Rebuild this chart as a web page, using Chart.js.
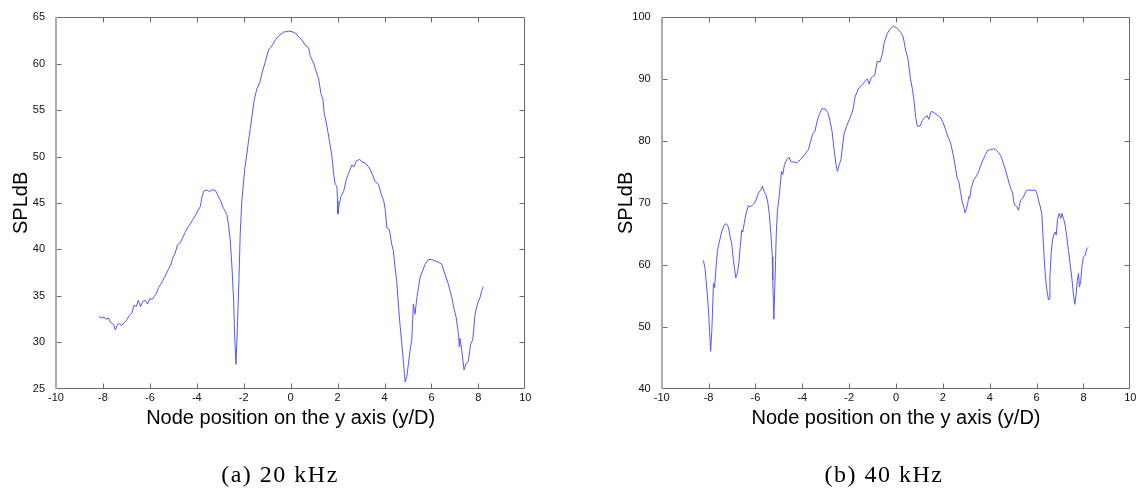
<!DOCTYPE html>
<html>
<head>
<meta charset="utf-8">
<script src="https://cdn.jsdelivr.net/npm/chart.js@4/dist/chart.umd.min.js"></script>
<style>
  html, body { margin: 0; padding: 0; background: #fff; }
  #page { position: relative; width: 1147px; height: 493px; overflow: hidden; }
  .panel { position: absolute; top: 0; height: 493px; }
  .caption {
    position: absolute; top: 462px; width: 300px; text-align: center;
    font-family: "Liberation Serif", serif; font-size: 24px; line-height: 24px;
    letter-spacing: 1.5px; color: #000; white-space: nowrap;
  }
</style>
</head>
<body>
<div id="page">
  <div class="panel" style="left:0;width:573px"><canvas id="c20"></canvas></div>
  <div class="panel" style="left:573px;width:574px"><canvas id="c40"></canvas></div>
  <div class="caption" style="left:130px">(a) 20 kHz</div>
  <div class="caption" style="left:734px">(b) 40 kHz</div>
</div>
<script>
// Node positions (y/D) and sound pressure level (dB) at 20 kHz
const pos20 = [
  -8.17,-8.05,-7.95,-7.87,-7.77,-7.67,-7.55,-7.47,-7.38,-7.30,-7.20,-7.10,-6.98,-6.87,-6.77,-6.67,-6.59,-6.49,-6.40,-6.30,
  -6.20,-6.10,-6.00,-5.90,-5.82,-5.73,-5.63,-5.53,-5.42,-5.35,-5.20,-5.10,-5.02,-4.92,-4.82,-4.71,-4.60,-4.50,-4.40,-4.28,
  -4.17,-4.07,-3.97,-3.85,-3.78,-3.71,-3.57,-3.46,-3.36,-3.21,-3.12,-3.00,-2.86,-2.79,-2.72,-2.65,-2.57,-2.50,-2.43,-2.39,
  -2.33,-2.30,-2.26,-2.20,-2.15,-2.08,-2.04,-1.96,-1.86,-1.79,-1.72,-1.65,-1.55,-1.44,-1.32,-1.22,-1.08,-0.94,-0.80,-0.65,
  -0.51,-0.30,-0.09,0.06,0.20,0.34,0.48,0.62,0.77,0.84,0.98,1.09,1.19,1.29,1.38,1.43,1.52,1.62,1.69,1.76,
  1.83,1.90,1.97,2.00,2.01,2.07,2.14,2.26,2.37,2.47,2.61,2.71,2.79,2.94,3.04,3.18,3.32,3.46,3.60,3.74,
  3.89,3.96,4.03,4.10,4.21,4.31,4.38,4.45,4.52,4.60,4.67,4.74,4.81,4.88,4.95,5.02,5.09,5.16,5.23,5.30,
  5.38,5.45,5.52,5.63,5.73,5.87,6.01,6.16,6.30,6.44,6.58,6.72,6.87,6.96,7.05,7.15,7.19,7.22,7.29,7.39,
  7.48,7.57,7.67,7.76,7.86,7.96,8.07,8.14,8.21
];
const spl20 = [
  32.75,32.6,32.7,32.45,32.6,32.1,31.9,31.3,31.9,32.0,31.8,32.1,32.4,32.9,33.1,34.0,33.8,34.5,33.8,34.4,
  34.5,34.1,34.7,34.6,34.9,35.2,35.9,36.25,36.8,37.1,37.9,38.4,39.1,39.6,40.5,40.7,41.25,41.8,42.3,42.7,
  43.2,43.6,44.1,44.6,45.6,46.25,46.4,46.2,46.4,46.35,45.9,45.3,44.4,44.1,43.75,42.7,40.9,38.0,34.5,30.9,
  27.6,29.5,32.3,37.0,41.6,45.2,46.3,48.6,50.4,51.8,53.0,54.3,56.1,57.3,57.9,59.0,60.2,61.5,61.9,62.6,
  63.0,63.4,63.5,63.45,63.3,62.9,62.55,62.0,61.7,60.8,60.05,59.15,58.4,56.8,56.1,54.7,53.6,52.2,51.1,50.0,
  48.2,47.0,46.8,45.2,43.8,44.8,45.7,46.25,47.5,48.2,49.1,48.9,49.5,49.7,49.4,49.3,48.9,48.2,47.3,47.0,
  45.7,45.3,44.3,42.3,42.1,40.5,39.8,38.0,36.6,33.75,31.6,29.8,27.7,25.7,26.25,27.7,29.1,30.2,34.1,33.0,
  34.8,35.9,37.0,37.7,38.4,38.9,38.9,38.75,38.6,38.4,37.3,36.25,34.8,33.6,32.7,30.9,29.5,30.4,29.1,27.0,
  27.7,27.9,29.8,30.2,33.0,34.1,34.8,35.5,36.0
];

// Node positions (y/D) and sound pressure level (dB) at 40 kHz
const pos40 = [
  -8.22,-8.15,-8.08,-8.00,-7.96,-7.91,-7.86,-7.82,-7.79,-7.74,-7.68,-7.62,-7.54,-7.44,-7.34,-7.25,-7.15,-7.08,-7.01,-6.94,
  -6.84,-6.77,-6.71,-6.65,-6.58,-6.54,-6.48,-6.40,-6.30,-6.23,-6.13,-6.05,-5.97,-5.87,-5.77,-5.70,-5.63,-5.55,-5.48,-5.41,
  -5.34,-5.28,-5.26,-5.21,-5.19,-5.14,-5.11,-5.06,-5.00,-4.94,-4.89,-4.83,-4.76,-4.66,-4.57,-4.49,-4.38,-4.24,-4.17,-4.07,
  -3.95,-3.84,-3.74,-3.64,-3.56,-3.46,-3.36,-3.27,-3.17,-3.03,-2.91,-2.82,-2.73,-2.65,-2.56,-2.50,-2.42,-2.35,-2.29,-2.22,
  -2.11,-1.99,-1.92,-1.82,-1.75,-1.61,-1.47,-1.36,-1.22,-1.15,-1.05,-0.91,-0.80,-0.68,-0.58,-0.51,-0.37,-0.23,-0.09,0.06,
  0.20,0.31,0.41,0.51,0.62,0.70,0.77,0.84,0.91,1.02,1.12,1.22,1.33,1.40,1.50,1.62,1.76,1.90,2.01,2.11,
  2.21,2.33,2.44,2.54,2.61,2.68,2.75,2.82,2.89,2.95,3.01,3.06,3.11,3.15,3.21,3.32,3.43,3.53,3.63,3.72,
  3.82,3.91,4.03,4.17,4.28,4.38,4.48,4.60,4.69,4.77,4.85,4.92,4.98,5.02,5.09,5.16,5.23,5.28,5.33,5.42,
  5.48,5.56,5.66,5.80,5.94,6.01,6.09,6.16,6.23,6.27,6.33,6.38,6.44,6.51,6.55,6.57,6.62,6.68,6.75,6.79,
  6.84,6.89,6.96,7.04,7.08,7.15,7.22,7.29,7.36,7.43,7.50,7.57,7.63,7.69,7.74,7.79,7.83,7.89,7.93,8.00,
  8.07,8.14,8.21
];
const spl40 = [
  60.7,59.4,56.4,52.6,49.4,46.0,49.4,53.7,57.0,56.3,59.6,62.3,63.7,65.3,66.4,66.65,66.1,64.5,63.4,60.7,
  57.9,58.6,60.2,62.9,65.6,65.3,66.65,68.3,69.6,69.35,69.6,69.9,70.5,71.6,72.1,72.7,71.85,71.3,70.3,68.3,
  65.0,61.3,57.5,51.2,54.3,60.7,65.0,68.8,70.6,72.9,75.1,74.6,76.2,77.0,77.4,76.7,76.6,76.5,76.7,77.0,
  77.55,78.1,78.6,80.0,81.1,81.6,83.3,84.3,85.2,85.2,84.6,83.3,81.6,78.9,76.2,75.1,76.2,77.0,78.9,81.1,
  82.4,83.5,84.1,85.4,87.1,88.4,89.0,89.5,90.05,89.2,90.3,90.6,92.9,92.8,94.1,95.8,97.4,98.2,98.6,98.2,
  97.55,96.8,94.7,93.3,90.05,88.4,86.5,83.8,82.4,82.4,83.3,83.8,84.1,83.5,84.8,84.6,84.2,83.8,83.0,81.9,
  80.8,79.7,77.8,75.65,74.0,73.5,71.85,70.3,69.35,68.4,69.1,69.9,71.0,70.8,72.4,73.75,74.3,75.1,76.2,77.0,
  77.8,78.5,78.6,78.75,78.5,78.1,77.55,76.2,75.1,74.0,72.9,72.1,71.6,70.2,69.6,69.35,68.8,69.9,70.5,70.8,
  71.3,72.0,72.1,72.0,72.1,71.6,70.3,69.35,68.0,65.0,60.7,58.0,55.9,54.3,54.5,58.0,61.8,64.0,65.0,65.3,
  64.8,67.2,68.3,67.5,68.3,67.5,66.4,64.5,62.3,60.2,58.0,55.3,53.6,55.3,57.5,58.6,56.4,57.5,59.6,61.3,
  61.5,62.6,62.8
];

// Axis limits and tick spacing
const xRange = [-10, 10], xStep = 2;
const yRange20 = [25, 65], yStep20 = 5;
const yRange40 = [40, 100], yStep40 = 10;

const xTitle = 'Node position on the y axis (y/D)';
const yTitle = 'SPLdB';

const AXIS = '#6a6a6a';
const LEFT_SPINE = '#ababab';
const LINE = '#5555ff';
const SANS = '"Liberation Sans", Arial, sans-serif';

// Closed box around the plot area with short inward tick marks on all four sides
const boxTicks = {
  id: 'boxTicks',
  afterDatasetsDraw(chart) {
    const { ctx, chartArea: a, scales: { x, y } } = chart;
    const L = Math.round(a.left) + 0.5, R = Math.round(a.right) - 0.5;
    const T = Math.round(a.top) + 0.5, B = Math.round(a.bottom) - 0.5;
    const len = 5;
    ctx.save();
    ctx.strokeStyle = AXIS;
    ctx.lineWidth = 1;
    ctx.beginPath();
    x.ticks.forEach(t => {
      const px = Math.round(x.getPixelForValue(t.value)) + 0.5;
      if (px <= L + 1 || px >= R - 1) return;
      ctx.moveTo(px, B); ctx.lineTo(px, B - len);
      ctx.moveTo(px, T); ctx.lineTo(px, T + len);
    });
    y.ticks.forEach(t => {
      const py = Math.round(y.getPixelForValue(t.value)) + 0.5;
      if (py <= T + 1 || py >= B - 1) return;
      ctx.moveTo(L, py); ctx.lineTo(L + len, py);
      ctx.moveTo(R, py); ctx.lineTo(R - len, py);
    });
    // top, right and bottom sides of the box
    ctx.moveTo(L, T); ctx.lineTo(R, T); ctx.lineTo(R, B); ctx.lineTo(L, B);
    ctx.stroke();
    // left spine is a wider, lighter rule
    ctx.beginPath();
    ctx.strokeStyle = LEFT_SPINE;
    ctx.lineWidth = 2;
    ctx.moveTo(Math.round(a.left) - 0.0, T - 0.5);
    ctx.lineTo(Math.round(a.left) - 0.0, B + 0.5);
    ctx.stroke();
    ctx.restore();
  }
};

function makeChart(id, pos, spl, yRange, yStep, pad) {
  const points = pos.map((p, i) => ({ x: p, y: spl[i] }));
  return new Chart(document.getElementById(id), {
    type: 'line',
    data: {
      datasets: [{
        data: points,
        borderColor: LINE,
        borderWidth: 1,
        pointRadius: 0,
        tension: 0,
        fill: false
      }]
    },
    options: {
      responsive: true,
      maintainAspectRatio: false,
      animation: false,
      events: [],
      layout: { padding: pad },
      plugins: { legend: { display: false }, tooltip: { enabled: false } },
      scales: {
        x: {
          type: 'linear',
          min: xRange[0], max: xRange[1],
          grid: { display: false },
          border: { display: false },
          ticks: { stepSize: xStep, color: '#111', font: { family: SANS, size: 11 }, padding: -5, maxRotation: 0 },
          title: { display: true, text: xTitle, color: '#000', font: { family: SANS, size: 20 }, padding: { top: 0, bottom: 0 } },
          afterFit(s) { s.height = 42; }
        },
        y: {
          type: 'linear',
          min: yRange[0], max: yRange[1],
          grid: { display: false },
          border: { display: false },
          ticks: { stepSize: yStep, color: '#111', font: { family: SANS, size: 11 }, padding: 3 },
          title: { display: true, text: yTitle, color: '#000', font: { family: SANS, size: 20 }, padding: { top: 9, bottom: 0 } },
          afterFit(s) { s.width = 56; }
        }
      }
    },
    plugins: [boxTicks]
  });
}

makeChart('c20', pos20, spl20, yRange20, yStep20, { left: 0, right: 47.7, top: 17.3, bottom: 62.5 });
makeChart('c40', pos40, spl40, yRange40, yStep40, { left: 32.7, right: 16.7, top: 17.3, bottom: 62.5 });
</script>
</body>
</html>
